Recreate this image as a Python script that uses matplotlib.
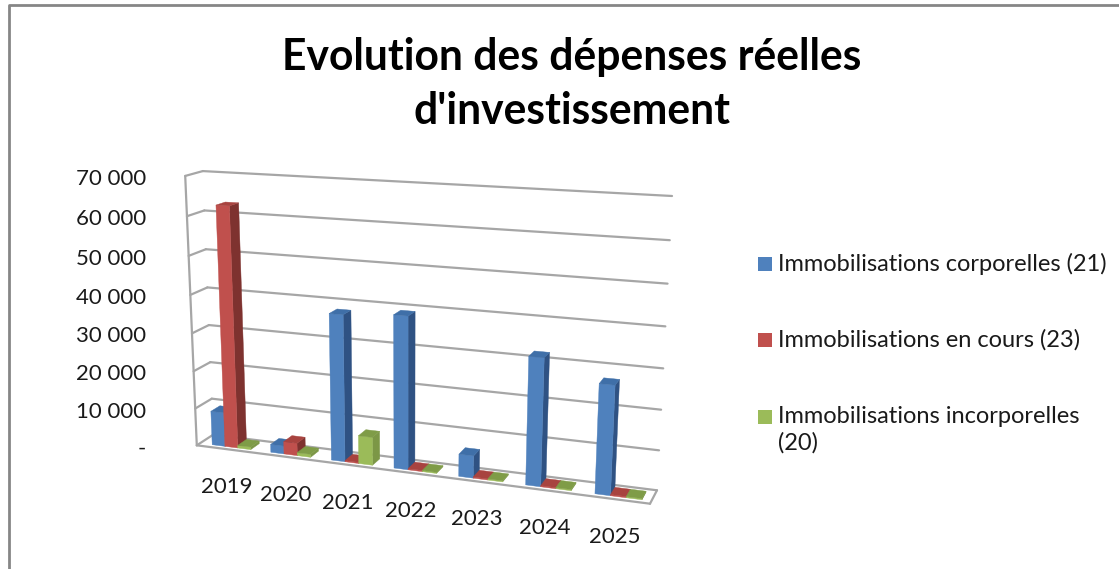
import matplotlib

matplotlib.use("Agg")
import matplotlib.pyplot as plt
import numpy as np
from matplotlib.patches import Rectangle

plt.rcParams["font.family"] = ["Lato", "DejaVu Sans"]

YEARS = ["2019", "2020", "2021", "2022", "2023", "2024", "2025"]
CORPORELLES = [9100, 2100, 37900, 39000, 5700, 31900, 27000]
EN_COURS = [62900, 3300, 300, 300, 300, 300, 300]
INCORPORELLES = [700, 800, 7300, 300, 300, 300, 300]
Y_TICKS = [0, 10000, 20000, 30000, 40000, 50000, 60000, 70000]
Y_TICK_LABELS = ["-", "10 000", "20 000", "30 000", "40 000", "50 000", "60 000", "70 000"]
LEGEND_LABELS = [
    "Immobilisations corporelles (21)",
    "Immobilisations en cours (23)",
    "Immobilisations incorporelles\n(20)",
]

FACE_COLORS = ["#4F81BD", "#C0504D", "#9BBB59"]
TOP_COLORS = ["#3F6FA8", "#A8433F", "#7F9C47"]
SIDE_COLORS = ["#2F5283", "#7E322F", "#7C9746"]
GRID_COLOR = "#A6A6A6"
Y_MAX = 70000
BAR_WIDTH = 0.22

# calibration of the 3d box: (x, depth, value) in unit coords -> picture pixels
BOX_CORNERS = [
    ((0, 0, 0), (197, 445)),
    ((1, 0, 0), (650, 504)),
    ((0, 0, 1), (185, 176)),
    ((0, 1, 0), (213, 435)),
    ((1, 1, 0), (657, 490)),
    ((0, 1, 1), (203, 171)),
    ((1, 1, 1), (672, 196)),
]


def fit_camera(corners):
    rows = []
    rhs = []
    for (x, d, v), (px, py) in corners:
        rows.append([x, d, v, 1, 0, 0, 0, 0, -px * x, -px * d, -px * v])
        rows.append([0, 0, 0, 0, x, d, v, 1, -py * x, -py * d, -py * v])
        rhs += [px, py]
    sol = np.linalg.lstsq(np.array(rows, float), np.array(rhs, float), rcond=None)[0]
    return np.append(sol, 1.0).reshape(3, 4)


CAMERA = fit_camera(BOX_CORNERS)


def project(x, depth, value):
    point = CAMERA @ np.array([x / len(YEARS), depth, value / Y_MAX, 1.0])
    return point[0] / point[2], point[1] / point[2]


def draw_bar(ax, x0, x1, d0, d1, value, series):
    front = [project(x0, d0, 0), project(x1, d0, 0), project(x1, d0, value), project(x0, d0, value)]
    side = [project(x1, d0, 0), project(x1, d1, 0), project(x1, d1, value), project(x1, d0, value)]
    top = [project(x0, d0, value), project(x1, d0, value), project(x1, d1, value), project(x0, d1, value)]
    ax.fill(*zip(*side), color=SIDE_COLORS[series], lw=0.3, zorder=3)
    ax.fill(*zip(*front), color=FACE_COLORS[series], lw=0.3, zorder=3)
    ax.fill(*zip(*top), color=TOP_COLORS[series], lw=0.3, zorder=3)


def box_line(ax, start, end):
    ax.plot(*zip(project(*start), project(*end)), color=GRID_COLOR, lw=1.6, solid_capstyle="round", zorder=1)


fig = plt.figure(figsize=(11.19, 5.69), dpi=100)
ax = fig.add_axes([0, 0, 1, 1])
ax.set_xlim(0, 1119)
ax.set_ylim(569, 0)
ax.axis("off")

# outer frame of the chart area, cut off at the bottom and right of the crop
ax.plot([9, 9, 1119], [569, 5, 5], color="#868686", lw=2)

n_years = len(YEARS)
for tick, label in zip(Y_TICKS, Y_TICK_LABELS):
    box_line(ax, (0, 0, tick), (0, 1, tick))
    if tick > 0:
        box_line(ax, (0, 1, tick), (n_years, 1, tick))
    px, py = project(0, 0, tick)
    ax.text(146, py + 3, label, ha="right", va="center", fontsize=16, color="#1a1a1a")

box_line(ax, (0, 0, 0), (0, 0, Y_MAX))
box_line(ax, (0, 1, 0), (n_years, 1, 0))
box_line(ax, (0, 0, 0), (n_years, 0, 0))
box_line(ax, (n_years, 0, 0), (n_years, 1, 0))

for i in range(n_years):
    for series, values in enumerate([CORPORELLES, EN_COURS, INCORPORELLES]):
        left = i + 0.54 - 1.5 * BAR_WIDTH + series * BAR_WIDTH
        draw_bar(ax, left, left + BAR_WIDTH, 0.2, 0.75, values[i], series)
    px, py = project(i + 0.5, 0, 0)
    ax.text(px + 1, py + 38, YEARS[i], ha="center", va="center", fontsize=16, color="#1a1a1a")

for label, color, y in zip(LEGEND_LABELS, FACE_COLORS, [264, 340, 417]):
    ax.add_patch(Rectangle((758, y - 7), 14, 14, color=color, lw=0))
    ax.text(778, y - 11, label, ha="left", va="top", fontsize=17, color="#1a1a1a", linespacing=1.3)

ax.text(572, 84, "Evolution des dépenses réelles\nd'investissement", ha="center", va="center",
        fontsize=30.7, fontweight="bold", color="black", linespacing=1.45)

fig.savefig("out.png", dpi=100)
plt.close(fig)
